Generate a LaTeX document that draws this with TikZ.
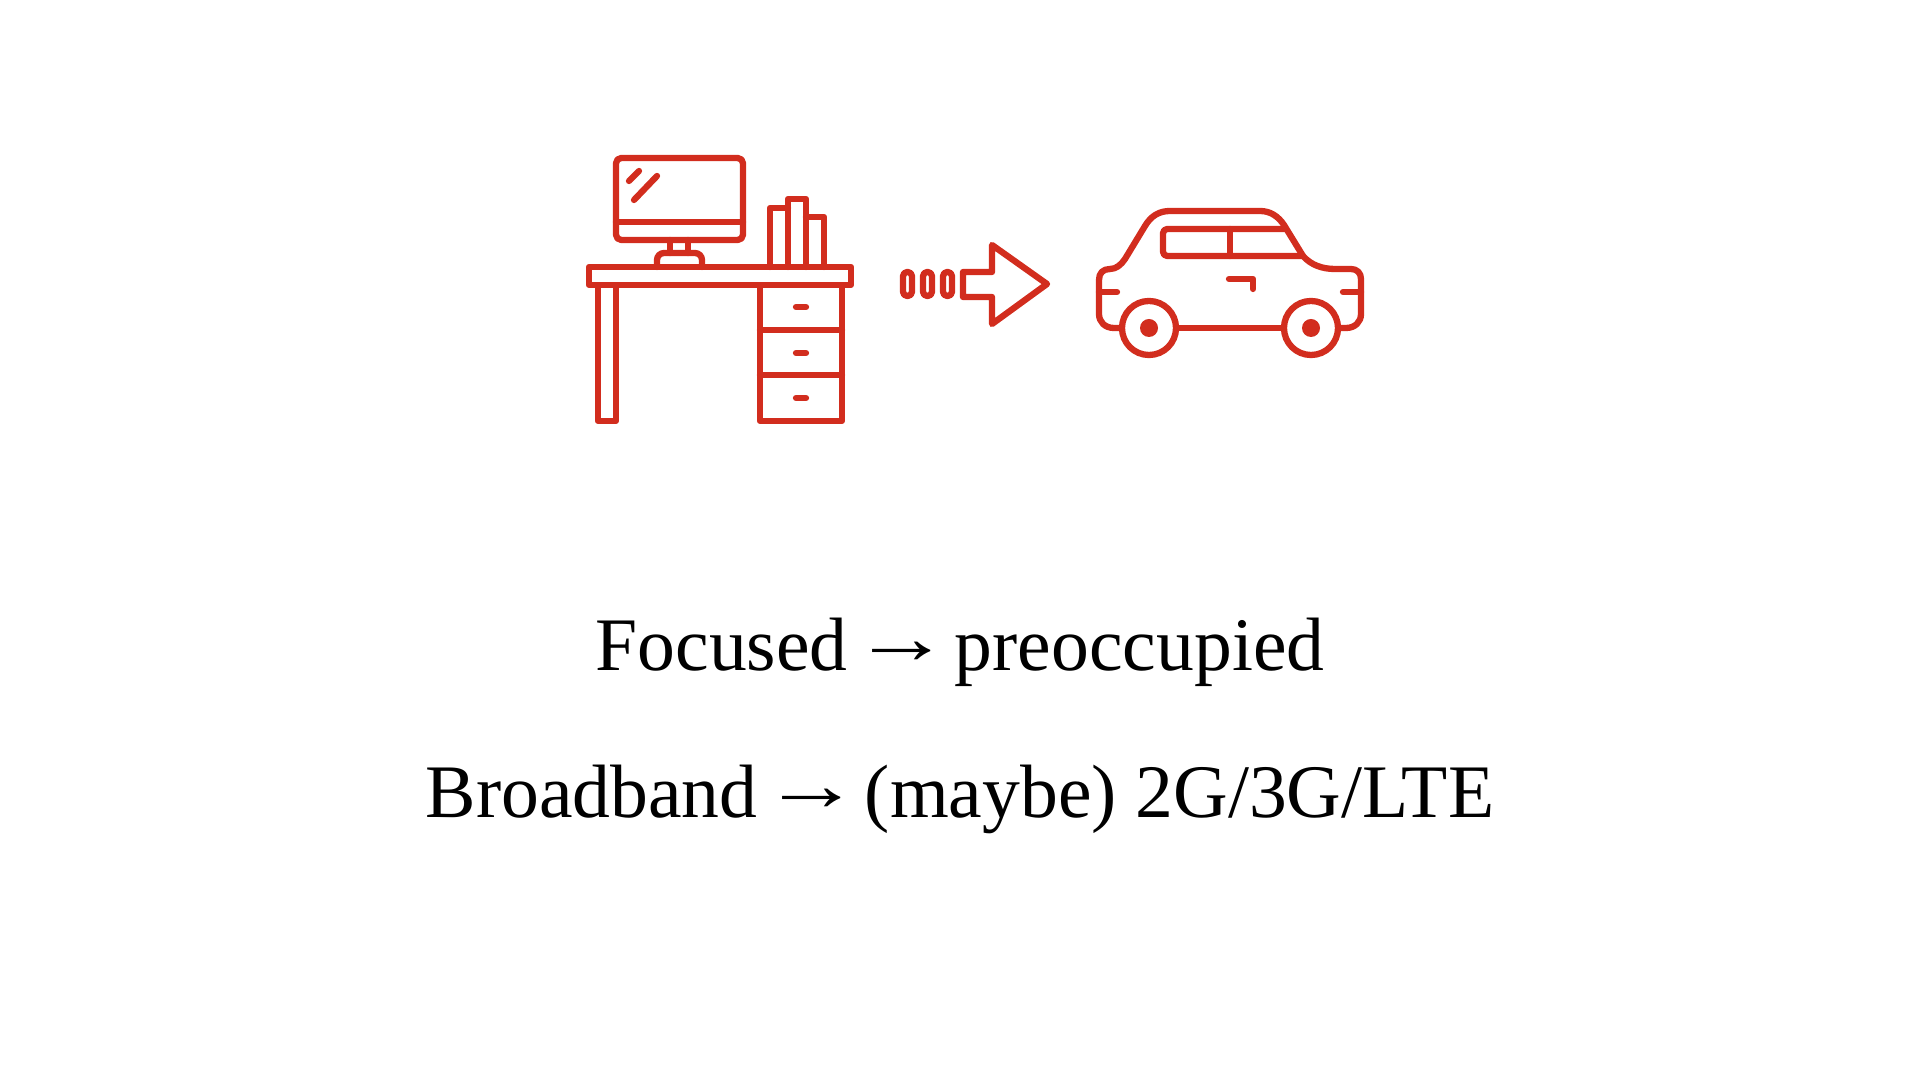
\documentclass[tikz,border=0pt]{standalone}
\usepackage{xcolor}
\usepackage{fontspec}
\setmainfont{Liberation Serif}
\definecolor{iconred}{HTML}{D22D1E}
\newcommand{\capArrow}{\hspace{0.06em}\raisebox{0.1em}{\scalebox{1.3}[1]{→}}\hspace{0.06em}}
\tikzset{
    iconline/.style={draw=iconred, line width=0.63mm, line join=round, line cap=round},
    caption/.style={anchor=base, text=black, font=\fontsize{21.5}{26}\selectfont, inner sep=0pt}
}

\begin{document}
\begin{tikzpicture}[x=0.01cm, y=-0.01cm]
    \useasboundingbox (0,0) rectangle (1920,1080);
    % Monitor
    \draw[iconline, rounded corners=1.5pt] (616,158) rectangle (743,240);
    \draw[iconline] (616,222) -- (743,222);
    \draw[iconline] (629,181) -- (639,171);
    \draw[iconline] (634,200) -- (657,176);
    \draw[iconline] (670,240) -- (670,253);
    \draw[iconline] (688,240) -- (688,253);
    \draw[iconline, rounded corners=2pt] (657,267) -- (657,253) -- (702,253) -- (702,267);
    % Desk top and leg
    \draw[iconline] (589,267) rectangle (851,285);
    \draw[iconline] (598,285) rectangle (616,421);
    % Drawers
    \draw[iconline] (760,285) rectangle (842,421);
    \draw[iconline] (760,330) -- (842,330);
    \draw[iconline] (760,375) -- (842,375);
    \foreach \handley in {307,353,398}
        \draw[iconline] (796,\handley) -- (806,\handley);
    % Books
    \draw[iconline] (770,267) -- (770,208) -- (788,208);
    \draw[iconline] (788,267) -- (788,199) -- (806,199) -- (806,267);
    \draw[iconline] (806,217) -- (824,217) -- (824,267);
    % Dots before the arrow
    \foreach \pillx in {903,923,943}
        \draw[iconline, rounded corners=1.2pt] (\pillx,272) rectangle ++(9,24);
    % Arrow
    \draw[iconline] (963,272) -- (992,272) -- (992,245) -- (1047,284) -- (992,324) -- (992,297) -- (963,297) -- cycle;
    % Car body
    \draw[iconline] (1120,328) -- (1114,328) .. controls (1105,328) and (1099,322) .. (1099,314)
        -- (1099,280) .. controls (1099,273) and (1103,269) .. (1110,269)
        .. controls (1116,269) and (1121,265) .. (1125,259)
        -- (1145,226) .. controls (1151,216) and (1159,211) .. (1170,211)
        -- (1260,211) .. controls (1270,211) and (1278,216) .. (1284,225)
        -- (1303,256) .. controls (1311,265) and (1322,269) .. (1335,269)
        -- (1351,269) .. controls (1357,269) and (1361,273) .. (1361,279)
        -- (1361,314) .. controls (1361,322) and (1355,328) .. (1346,328)
        -- (1340,328);
    \draw[iconline] (1178,328) -- (1282,328);
    % Wheels
    \foreach \wheelx in {1149,1311} {
        \draw[iconline] (\wheelx,328) circle (0.27cm);
        \fill[iconred] (\wheelx,328) circle (0.09cm);
    }
    % Windows
    \draw[iconline, rounded corners=1.2pt] (1285,229) -- (1163,229) -- (1163,256) -- (1303,256);
    \draw[iconline] (1230,229) -- (1230,256);
    % Door handle and bumpers
    \draw[iconline] (1229,279) -- (1253,279) -- (1253,289);
    \draw[iconline] (1099,292) -- (1117,292);
    \draw[iconline] (1343,292) -- (1361,292);
    % Captions
    \node[caption] (focusline) at (960,671) {Focused\capArrow preoccupied};
    \node[caption] (networkline) at (960,818) {Broadband\capArrow (maybe) 2G/3G/LTE};
\end{tikzpicture}
\end{document}
